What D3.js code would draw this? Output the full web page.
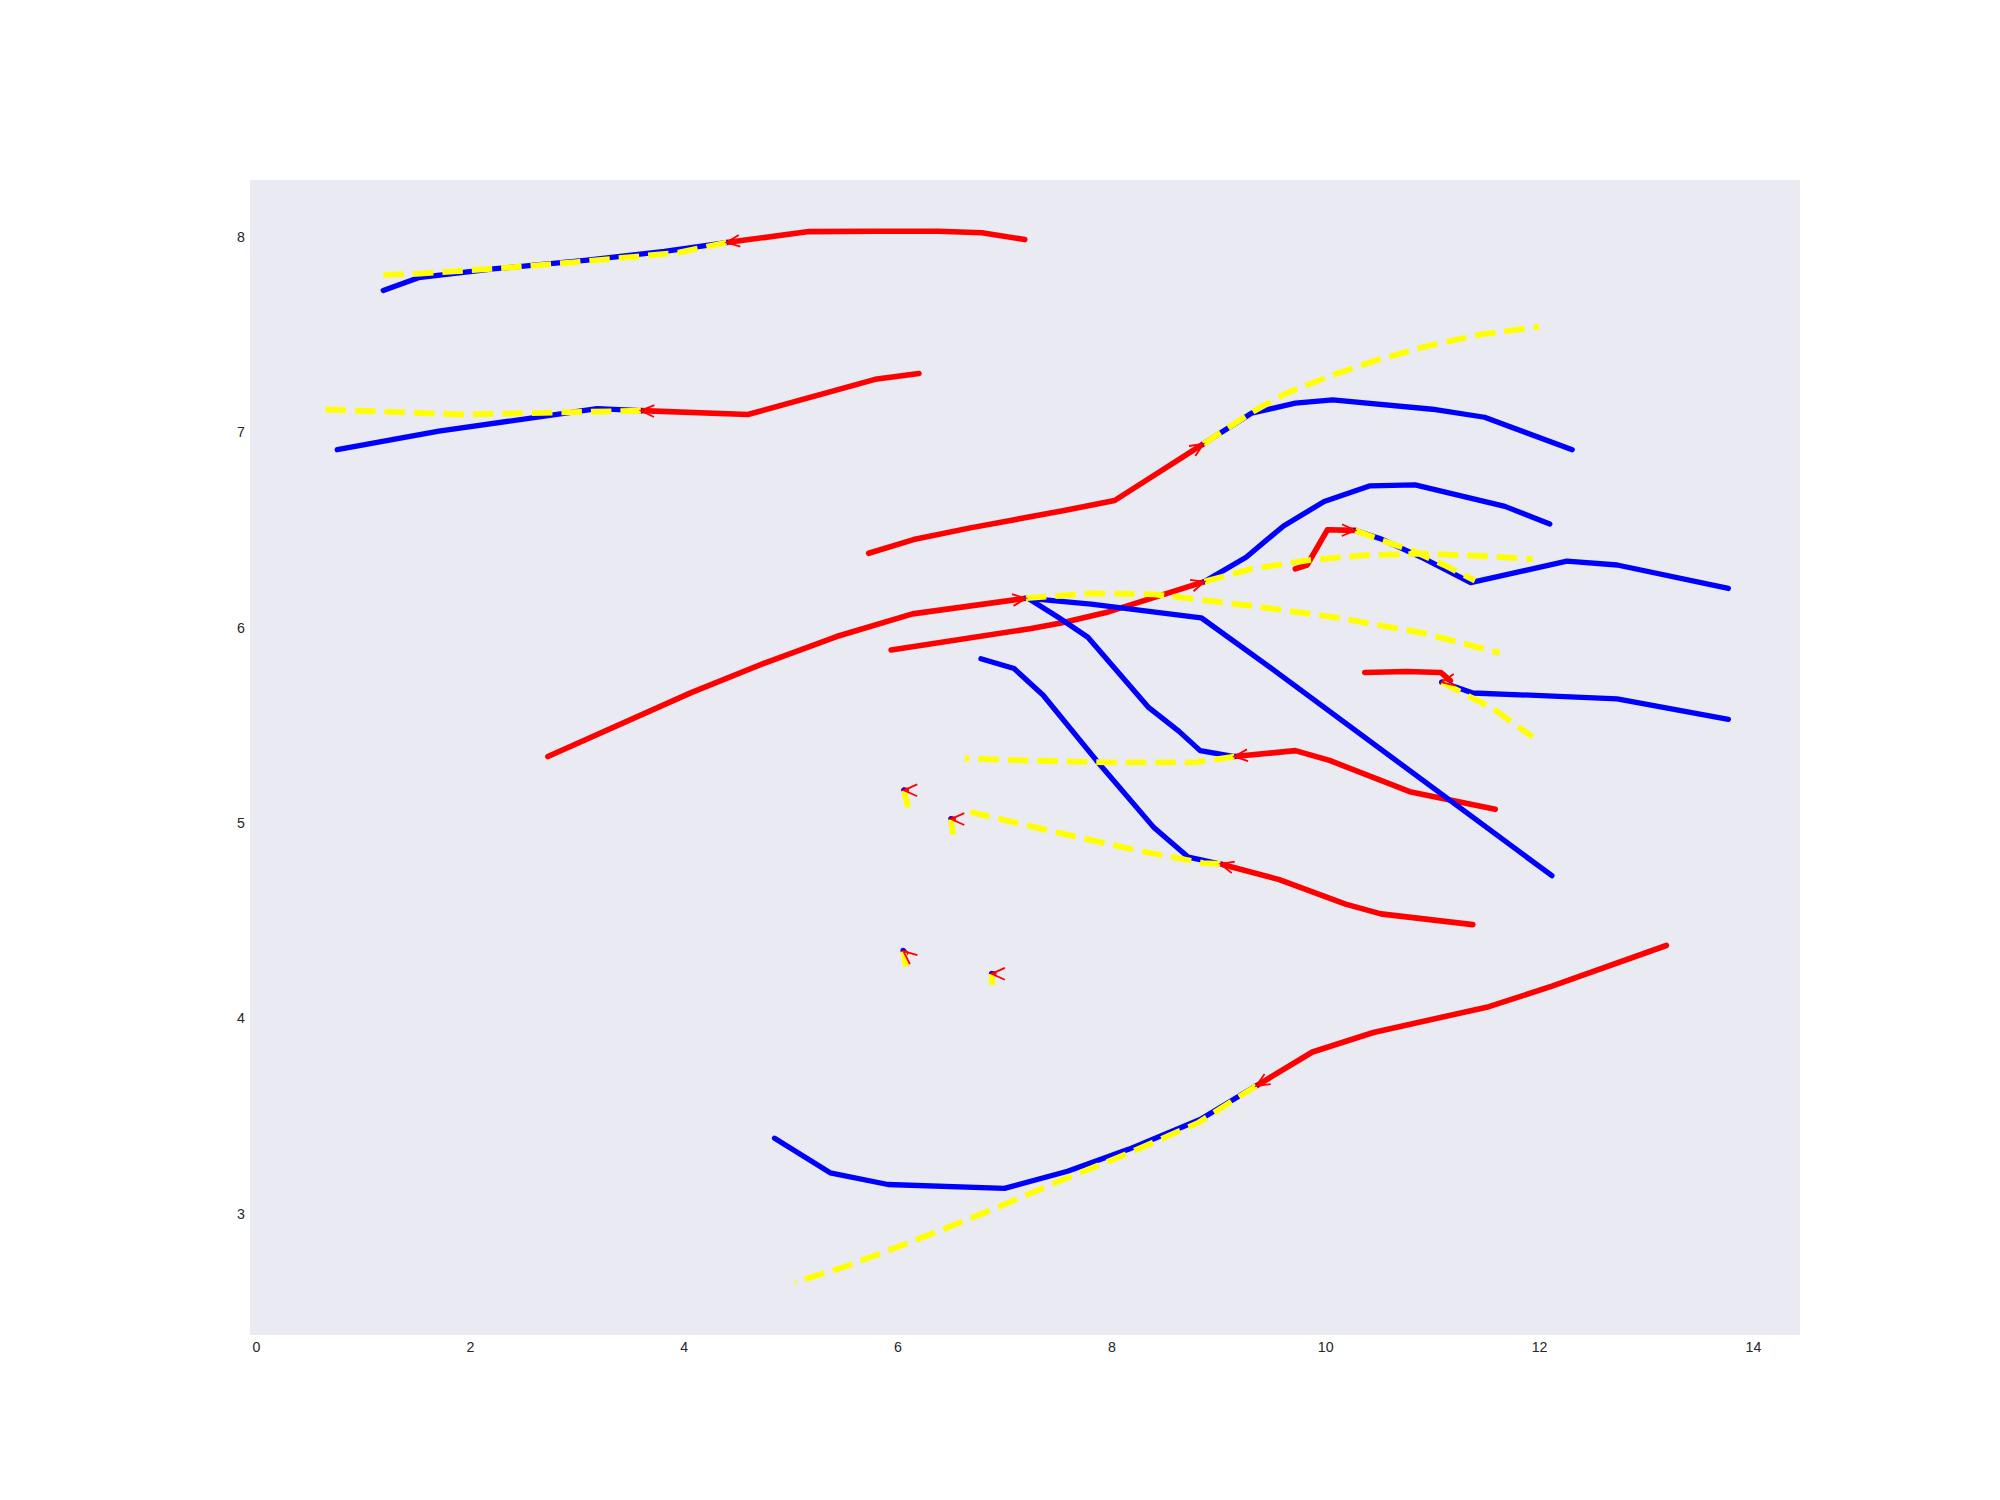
<!DOCTYPE html>
<html>
<head>
<meta charset="utf-8">
<script src="https://cdn.jsdelivr.net/npm/d3@7"></script>
<style>
  html, body { margin: 0; padding: 0; background: #ffffff; }
  svg { display: block; }
  text { font-family: "Liberation Sans", Arial, sans-serif; }
</style>
</head>
<body>
<svg id="chart" width="2000" height="1500"></svg>
<script>
// ---------------- DATA ----------------
const xTicks = [0, 2, 4, 6, 8, 10, 12, 14];
const yTicks = [3, 4, 5, 6, 7, 8];
const xDomain = [-0.056, 14.44];
const yDomain = [2.38, 8.29];

// Track 1 (top)
const hist1 = [[7.19,7.985],[6.79,8.02],[6.38,8.028],[5.80,8.028],[5.17,8.026],[4.40,7.97]];
const fut1  = [[4.40,7.97],[3.82,7.925],[3.10,7.88],[2.24,7.836],[1.52,7.79],[1.19,7.725]];
const pred1 = [[4.40,7.97],[3.95,7.918],[3.0,7.87],[2.2,7.835],[1.5,7.81],[1.19,7.805]];
// Track 2
const hist2 = [[6.20,7.30],[5.79,7.27],[4.60,7.09],[3.60,7.11]];
const fut2  = [[3.60,7.11],[3.19,7.12],[1.71,7.005],[0.76,6.91]];
const pred2 = [[3.60,7.11],[2.81,7.10],[1.905,7.09],[1.19,7.105],[0.59,7.117]];
// Track 3
const hist3 = [[5.73,6.38],[6.15,6.45],[6.68,6.51],[7.57,6.60],[8.03,6.65],[8.86,6.94]];
const fut3  = [[8.86,6.94],[9.31,7.097],[9.72,7.148],[10.07,7.165],[11.0,7.117],[11.49,7.076],[12.31,6.91]];
const pred3 = [[8.86,6.94],[9.34,7.11],[9.64,7.20],[10.06,7.29],[10.47,7.366],[10.95,7.44],[11.43,7.497],[12.0,7.54]];
// Track 4
const hist4 = [[2.73,5.34],[4.07,5.667],[4.75,5.817],[5.43,5.954],[6.14,6.07],[7.20,6.15]];
const fut4  = [[7.20,6.15],[7.81,6.12],[8.84,6.05],[9.50,5.79],[12.12,4.73]];
const pred4 = [[7.20,6.15],[7.81,6.175],[8.40,6.17],[9.32,6.11],[10.12,6.05],[10.93,5.97],[11.63,5.87]];
// Track 5
const hist5 = [[5.94,5.885],[7.25,5.995],[7.54,6.024],[7.97,6.08],[8.87,6.235]];
const fut5  = [[8.87,6.235],[9.26,6.36],[9.61,6.52],[9.99,6.645],[10.42,6.725],[10.84,6.73],[11.68,6.62],[12.10,6.53]];
const pred5 = [[8.87,6.235],[9.31,6.30],[9.85,6.345],[10.39,6.37],[10.93,6.378],[11.46,6.366],[11.94,6.35]];
// Track 6
const hist6 = [[9.72,6.30],[9.83,6.32],[10.02,6.50],[10.28,6.497]];
const fut6  = [[10.28,6.497],[10.51,6.456],[10.92,6.354],[11.36,6.23],[12.26,6.34],[12.73,6.32],[13.77,6.20]];
const pred6 = [[10.28,6.497],[10.51,6.45],[10.83,6.39],[11.11,6.32],[11.40,6.24]];
// Track 7
const hist7 = [[10.37,5.77],[10.76,5.775],[11.08,5.77],[11.17,5.728],[11.09,5.72]];
const fut7  = [[11.09,5.72],[11.38,5.665],[12.24,5.647],[12.73,5.635],[13.77,5.53]];
const pred7 = [[11.09,5.72],[11.57,5.585],[11.94,5.44]];
// Track 8
const hist8 = [[11.38,4.48],[10.52,4.535],[10.19,4.585],[9.57,4.71],[9.02,4.79]];
const fut8  = [[9.02,4.79],[8.72,4.825],[8.40,4.975],[7.86,5.32],[7.36,5.655],[7.09,5.79],[6.78,5.84]];
const pred8 = [[9.02,4.79],[8.86,4.795],[8.27,4.856],[7.48,4.953],[6.68,5.056]];
// Track 9
const hist9 = [[11.59,5.07],[10.79,5.16],[10.04,5.32],[9.72,5.37],[9.15,5.34]];
const fut9  = [[9.15,5.34],[8.83,5.37],[8.63,5.47],[8.35,5.59],[7.78,5.95],[7.51,6.05],[7.22,6.15]];
const pred9 = [[9.15,5.34],[8.78,5.31],[7.97,5.31],[7.17,5.32],[6.63,5.33]];
// Track 10 (bottom)
const hist10 = [[13.19,4.373],[12.12,4.165],[11.53,4.06],[10.45,3.928],[9.88,3.828],[9.355,3.655]];
const fut10  = [[9.355,3.655],[8.83,3.483],[8.16,3.33],[7.59,3.218],[7.0,3.13],[5.91,3.15],[5.37,3.21],[4.85,3.387]];
const pred10 = [[9.355,3.655],[8.81,3.465],[8.16,3.31],[7.57,3.18],[6.9,3.025],[6.4,2.915],[5.95,2.82],[5.5,2.728],[5.04,2.65]];
// Nearly stationary agents
const hist11 = [[6.08,5.167],[6.06,5.167]];
const fut11  = [[6.06,5.167],[6.061,5.168]];
const pred11 = [[6.06,5.167],[6.10,5.08]];
const hist12 = [[6.52,5.02],[6.50,5.02]];
const fut12  = [[6.50,5.02],[6.501,5.021]];
const pred12 = [[6.50,5.02],[6.52,4.94]];
const hist13 = [[6.075,4.335],[6.055,4.344]];
const fut13  = [[6.055,4.344],[6.053,4.347]];
const pred13 = [[6.055,4.344],[6.08,4.265]];
const hist14 = [[6.90,4.228],[6.88,4.228]];
const fut14  = [[6.88,4.228],[6.881,4.229]];
const pred14 = [[6.88,4.228],[6.885,4.17]];

const histories = [hist1,hist2,hist3,hist4,hist5,hist6,hist7,hist8,hist9,hist10,hist11,hist12,hist13,hist14];
const futures   = [fut1,fut2,fut3,fut4,fut5,fut6,fut7,fut8,fut9,fut10,fut11,fut12,fut13,fut14];
const preds     = [pred1,pred2,pred3,pred4,pred5,pred6,pred7,pred8,pred9,pred10,pred11,pred12,pred13,pred14];

// ---------------- CHART ----------------
const W = 2000, H = 1500;
const margin = {left: 250, right: 200, top: 180, bottom: 165};
const svg = d3.select("#chart");

const x = d3.scaleLinear().domain(xDomain).range([margin.left, W - margin.right]);
const y = d3.scaleLinear().domain(yDomain).range([H - margin.bottom, margin.top]);

svg.append("rect")
  .attr("x", margin.left).attr("y", margin.top)
  .attr("width", W - margin.left - margin.right)
  .attr("height", H - margin.top - margin.bottom)
  .attr("fill", "#EAEAF2");

// axes (no tick lines, no spines)
const xAxis = d3.axisBottom(x).tickValues(xTicks).tickSize(0).tickPadding(7).tickFormat(d3.format("d"));
const yAxis = d3.axisLeft(y).tickValues(yTicks).tickSize(0).tickPadding(5).tickFormat(d3.format("d"));

const gx = svg.append("g").attr("transform", `translate(0,${H - margin.bottom})`).call(xAxis);
const gy = svg.append("g").attr("transform", `translate(${margin.left},0)`).call(yAxis);
[gx, gy].forEach(g => {
  g.select(".domain").remove();
  g.selectAll("text")
    .attr("font-family", '"Liberation Sans", Arial, sans-serif')
    .attr("font-size", "14.2px")
    .attr("fill", "#262626");
});

svg.append("clipPath").attr("id", "plotclip").append("rect")
  .attr("x", margin.left).attr("y", margin.top)
  .attr("width", W - margin.left - margin.right)
  .attr("height", H - margin.top - margin.bottom);

const plot = svg.append("g").attr("clip-path", "url(#plotclip)");
const line = d3.line().x(d => x(d[0])).y(d => y(d[1]));

const gRed = plot.append("g");
const gBlue = plot.append("g");
const gYel = plot.append("g");
const gArr = plot.append("g");

gRed.selectAll("path").data(histories).join("path")
  .attr("d", line)
  .attr("fill", "none").attr("stroke", "#FF0000").attr("stroke-width", 5.6)
  .attr("stroke-linecap", "round").attr("stroke-linejoin", "round");

gBlue.selectAll("path").data(futures).join("path")
  .attr("d", line)
  .attr("fill", "none").attr("stroke", "#0000FF").attr("stroke-width", 5.3)
  .attr("stroke-linecap", "round").attr("stroke-linejoin", "round");

gYel.selectAll("path").data(preds).join("path")
  .attr("d", line)
  .attr("fill", "none").attr("stroke", "#FFFF00").attr("stroke-width", 5.8)
  .attr("stroke-dasharray", "20.5,9")
  .attr("stroke-linecap", "butt").attr("stroke-linejoin", "round");

// open arrow heads at the end of each history
const armLen = 14.5, half = 24 * Math.PI / 180;
histories.forEach(h => {
  const n = h.length;
  const tx = x(h[n-1][0]), ty = y(h[n-1][1]);
  const px = x(h[n-2][0]), py = y(h[n-2][1]);
  const ang = Math.atan2(ty - py, tx - px);
  const a1 = ang + Math.PI - half, a2 = ang + Math.PI + half;
  const p1 = [tx + armLen * Math.cos(a1), ty + armLen * Math.sin(a1)];
  const p2 = [tx + armLen * Math.cos(a2), ty + armLen * Math.sin(a2)];
  gArr.append("path")
    .attr("d", `M${p1[0]},${p1[1]}L${tx},${ty}L${p2[0]},${p2[1]}`)
    .attr("fill", "none").attr("stroke", "#FF0000").attr("stroke-width", 1.8)
    .attr("stroke-linejoin", "miter");
});
</script>
</body>
</html>
